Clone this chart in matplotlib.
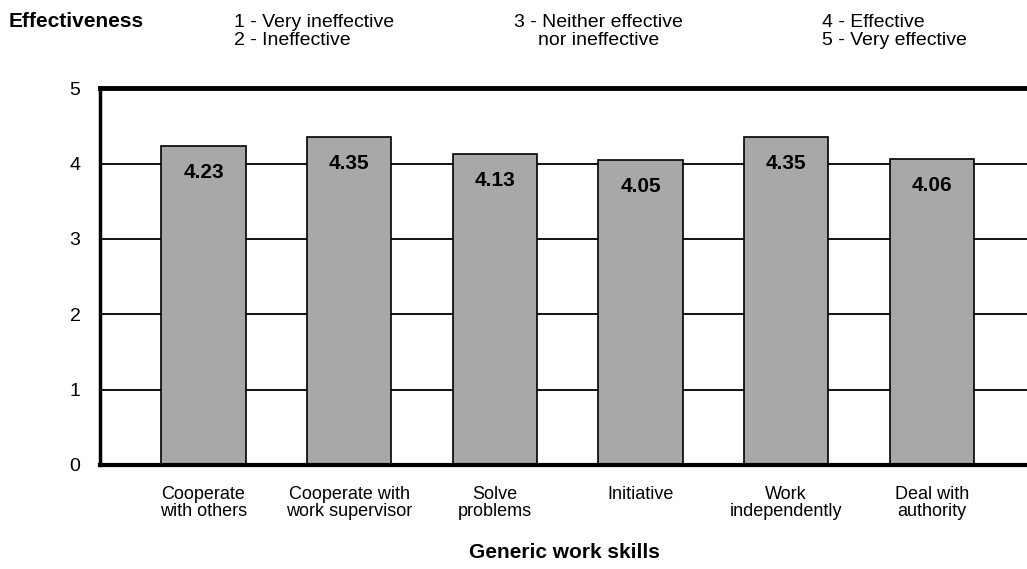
import numpy as np
import matplotlib
matplotlib.use("Agg")
import matplotlib.pyplot as plt

plt.rcParams['font.family'] = ['Liberation Sans Narrow', 'Liberation Sans', 'DejaVu Sans']

skills = ['Cooperate\nwith others', 'Cooperate with\nwork supervisor', 'Solve\nproblems',
          'Initiative', 'Work\nindependently', 'Deal with\nauthority']
scores = [4.23, 4.35, 4.13, 4.05, 4.35, 4.06]
yticks = [0, 1, 2, 3, 4, 5]

fig = plt.figure(figsize=(10.27, 5.69), dpi=100)
ax = fig.add_axes([0.0974, 0.183, 0.905, 0.662])

x = np.arange(len(skills))
ax.set_axisbelow(True)
# horizontal rules behind the bars
for yv in yticks[1:-1]:
    ax.axhline(yv, color='black', linewidth=1.3, zorder=0)

ax.bar(x, scores, width=0.58, color='#a8a8a8', edgecolor='black', linewidth=1.2, zorder=2)
for xi, v in zip(x, scores):
    ax.annotate(f"{v:.2f}", (xi, v), xytext=(0, -19), textcoords='offset points',
                ha='center', va='center', fontsize=15, fontweight='bold', zorder=3)

ax.set_xlim(-0.71, 5.67)
ax.set_ylim(0, 5)
ax.set_yticks(yticks)
ax.set_xticks(x)
ax.set_xticklabels(skills, fontsize=13, linespacing=1.05)
ax.tick_params(axis='y', length=0, pad=14, labelsize=14)
ax.tick_params(axis='x', length=0, pad=15)

ax.spines['right'].set_visible(False)
ax.spines['top'].set_linewidth(3.5)
ax.spines['bottom'].set_linewidth(3)
ax.spines['left'].set_linewidth(2.5)

ax.set_xlabel("Generic work skills", fontsize=15, fontweight='bold', labelpad=16)

fig.text(0.008, 0.962, "Effectiveness", fontsize=15, fontweight='bold', va='center')
fig.text(0.228, 0.945, "1 - Very ineffective\n2 - Ineffective", fontsize=14, va='center',
         linespacing=1.05)
fig.text(0.583, 0.945, "3 - Neither effective\nnor ineffective", fontsize=14, va='center',
         ha='center', linespacing=1.05)
fig.text(0.80, 0.945, "4 - Effective\n5 - Very effective", fontsize=14, va='center',
         linespacing=1.05)

fig.savefig("out.png", dpi=100)
